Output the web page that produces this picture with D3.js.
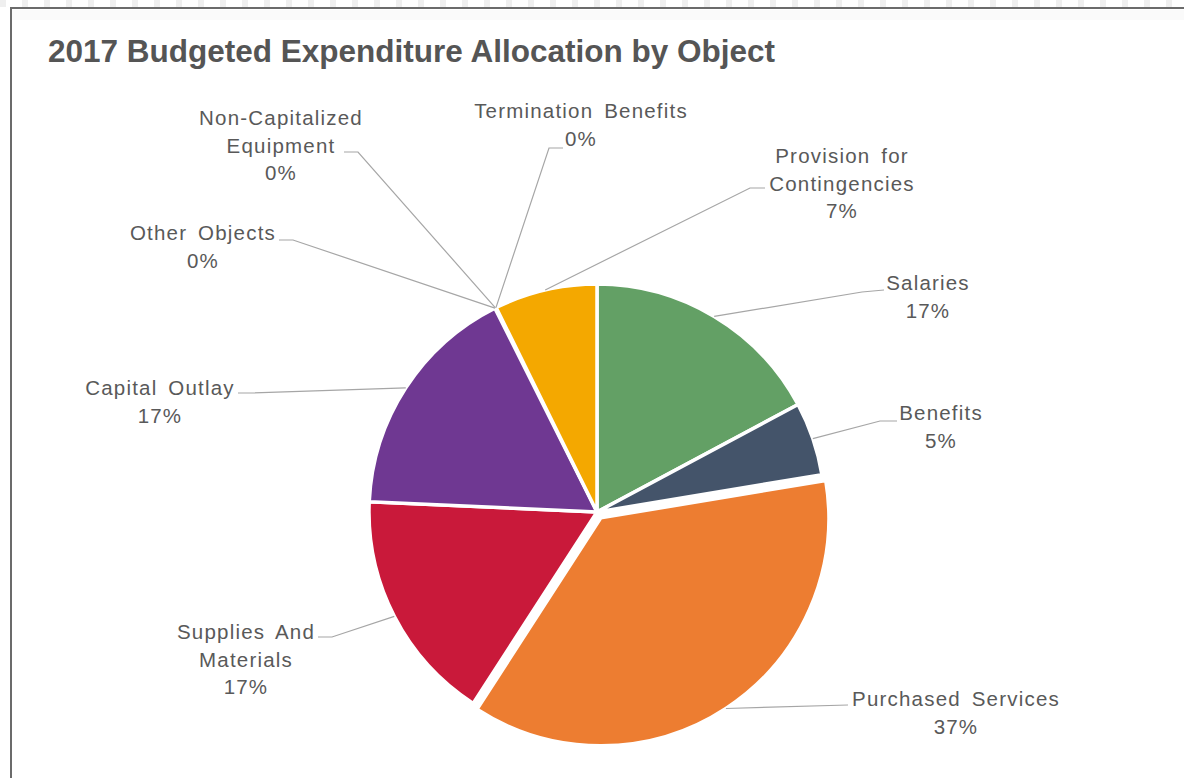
<!DOCTYPE html>
<html>
<head>
<meta charset="utf-8">
<script src="https://cdn.jsdelivr.net/npm/d3@7/dist/d3.min.js"></script>
<style>
  html, body { margin: 0; padding: 0; background: #fff; }
  svg { display: block; }
  text { font-family: "Liberation Sans", Arial, sans-serif; fill: #595959; }
</style>
</head>
<body>
<svg id="chart" width="1184" height="778"></svg>
<script>
// Budget shares by object (percent of total)
const categories = [
  "Salaries", "Benefits", "Purchased Services", "Supplies And Materials",
  "Capital Outlay", "Other Objects", "Non-Capitalized Equipment",
  "Termination Benefits", "Provision for Contingencies"
];
const values = [17.2, 5.2, 36.8, 16.6, 16.9, 0.02, 0.05, 0.03, 7.3];
const colors = ["#63a065", "#44546a", "#ed7d31", "#c9193a", "#6f3892",
                "#a5a5a5", "#5b9bd5", "#264478", "#f4a800"];
const labelLines = [
  ["Salaries"], ["Benefits"], ["Purchased Services"], ["Supplies And", "Materials"],
  ["Capital Outlay"], ["Other Objects"], ["Non-Capitalized", "Equipment"],
  ["Termination Benefits"], ["Provision for", "Contingencies"]
];
const title = "2017 Budgeted Expenditure Allocation by Object";

// Label placement: text centre x, first baseline y, leader end at the label and its knee
const labelLayout = [
  { x: 928, y: 290, end: [884, 290], knee: [862, 292] },
  { x: 941, y: 420, end: [897, 421], knee: [880, 421] },
  { x: 956, y: 706, end: [848, 705], knee: [848, 705] },
  { x: 246, y: 639, end: [318, 637], knee: [332, 637] },
  { x: 160, y: 395, end: [238, 393], knee: [252, 393] },
  { x: 203, y: 240, end: [279, 240], knee: [293, 240] },
  { x: 281, y: 125, end: [344, 152], knee: [358, 152] },
  { x: 581, y: 118, end: [563, 148], knee: [549, 148] },
  { x: 842, y: 163, end: [765, 188], knee: [750, 188] }
];

const svg = d3.select("#chart");
const W = 1184, H = 778;

// Dashed strip above the frame
const strip = svg.append("g");
d3.range(0, W, 22).forEach(x => {
  strip.append("rect").attr("x", x).attr("y", 0).attr("width", 6).attr("height", 7).attr("fill", "#efefef");
});

// Frame
svg.append("rect").attr("x", 11).attr("y", 8).attr("width", W).attr("height", H)
  .attr("fill", "#fff").attr("stroke", "#6b6b6b").attr("stroke-width", 2);
svg.append("rect").attr("x", 12).attr("y", 10).attr("width", W).attr("height", 10).attr("fill", "#fafafa");

// Title
svg.append("text")
  .attr("x", 48).attr("y", 62)
  .attr("font-size", 31.5).attr("font-weight", "bold")
  .style("fill", "#555555")
  .text(title);

// Pie
const cx = 597, cy = 512, r = 228;
const explode = { "Purchased Services": 7 };
const total = d3.sum(values);
const data = categories.map((c, i) => ({ name: c, value: values[i], color: colors[i], lines: labelLines[i], layout: labelLayout[i] }));

const pie = d3.pie().value(d => d.value).sort(null);
const arcs = pie(data);
const arc = d3.arc().innerRadius(0).outerRadius(r);
const rim = d3.arc().innerRadius(r).outerRadius(r);

const g = svg.append("g").attr("transform", `translate(${cx},${cy})`);

function offset(d) {
  const e = explode[d.data.name] || 0;
  const a = (d.startAngle + d.endAngle) / 2;
  return [e * Math.sin(a), -e * Math.cos(a)];
}

g.selectAll("path.slice")
  .data(arcs.filter(d => d.data.value >= 1))
  .join("path")
  .attr("class", "slice")
  .attr("d", arc)
  .attr("transform", d => `translate(${offset(d)})`)
  .attr("fill", d => d.data.color)
  .attr("stroke", "#fff")
  .attr("stroke-width", 3.5)
  .attr("stroke-linejoin", "round");

// Leader lines
const leaders = svg.append("g");
arcs.forEach(d => {
  const [rx, ry] = rim.centroid(d);
  const [ox, oy] = offset(d);
  const L = d.data.layout;
  const pts = [[cx + rx + ox, cy + ry + oy], L.knee, L.end];
  leaders.append("path")
    .attr("d", d3.line()(pts))
    .attr("fill", "none")
    .attr("stroke", "#a6a6a6")
    .attr("stroke-width", 1.2);
});

// Labels
const fmt = d3.format(".0%");
const lineH = 27.5;
arcs.forEach(d => {
  const L = d.data.layout;
  const t = svg.append("text")
    .attr("text-anchor", "middle")
    .attr("font-size", 20.5)
    .attr("letter-spacing", 1.2)
    .attr("word-spacing", 4);
  const lines = d.data.lines.concat([fmt(d.data.value / total)]);
  lines.forEach((s, i) => {
    t.append("tspan").attr("x", L.x).attr("y", L.y + i * lineH).text(s);
  });
});
</script>
</body>
</html>
